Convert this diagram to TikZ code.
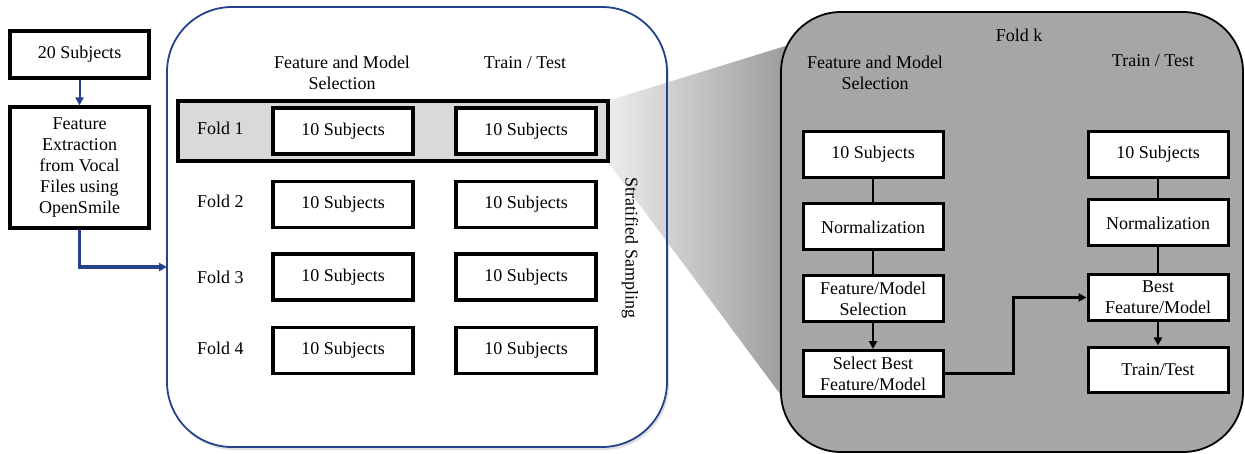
\documentclass[tikz,border=0pt]{standalone}
\usepackage{fontspec}
\setmainfont{Liberation Serif}
\usetikzlibrary{arrows.meta}
\definecolor{bluedk}{HTML}{24438A}
\definecolor{foldgray}{HTML}{A6A6A6}
\definecolor{hlgray}{HTML}{D9D9D9}
\tikzset{
  txt/.style={font=\fontsize{18}{21}\selectfont, align=center, inner sep=0pt},
  box/.style={txt, draw=black, line width=3.2pt, fill=white, minimum width=140pt, minimum height=46pt},
  kbox/.style={txt, draw=black, line width=3pt, fill=white, minimum width=140pt, minimum height=46pt},
  blarrow/.style={draw=bluedk, line width=2pt, -{Triangle[length=8pt,width=8pt]}},
  bkarrow/.style={draw=black, line width=2pt, -{Triangle[length=8pt,width=8pt]}},
  conn/.style={draw=black, line width=2pt},
}
\begin{document}
\begin{tikzpicture}[x=1pt,y=-1pt]
\useasboundingbox (0,0) rectangle (1245,454);
% left column
\node[box, minimum width=139pt, minimum height=47pt] (s20) at (79.5,54.5) {20 Subjects};
\node[box, minimum width=139pt, minimum height=121pt] (ext) at (79.5,167.5) {Feature\\Extraction\\from Vocal\\Files using\\OpenSmile};
\draw[blarrow] (s20) -- (ext);
% big box
\fill[black!12, rounded corners=65pt] (169,10) rectangle (669,450);
\fill[white, rounded corners=65pt] (167,7) rectangle (667,447);
\shade[left color=white!93!black, right color=black!40] (607,101) -- (792,44) -- (792,410) -- (607,161) -- cycle;
\node[draw=bluedk, line width=1.8pt, rounded corners=65pt, minimum width=500pt, minimum height=440pt, inner sep=0pt] (big) at (417,227) {};
\coordinate (inA) at (167,267);
\draw[blarrow, line width=3.5pt] (ext.south) |- (inA);
% headers
\node[txt] (h1) at (342,73) {Feature and Model\\Selection};
\node[txt] (h2) at (525,63) {Train / Test};
% fold 1 highlight
\node[draw=black, fill=hlgray, line width=3.5pt, minimum width=430pt, minimum height=60pt, inner sep=0pt] (f1row) at (393,131) {};
\node[txt, anchor=west] (f1) at (197,128) {Fold 1};
\node[txt, anchor=west] (f2) at (197,201) {Fold 2};
\node[txt, anchor=west] (f3) at (197,277) {Fold 3};
\node[txt, anchor=west] (f4) at (197,348) {Fold 4};
\node[box] (l1) at (343,131) {10 Subjects};
\node[box] (r1) at (526,131) {10 Subjects};
\node[box] (l2) at (343,204.5) {10 Subjects};
\node[box] (r2) at (526,204.5) {10 Subjects};
\node[box] (l3) at (343,277) {10 Subjects};
\node[box] (r3) at (526,277) {10 Subjects};
\node[box] (l4) at (343,350.5) {10 Subjects};
\node[box] (r4) at (526,350.5) {10 Subjects};
\node[txt, rotate=-90] (strat) at (630,248) {Stratified Sampling};
% fold k
\node[draw=black, fill=foldgray, line width=1.8pt, rounded corners=60pt, minimum width=462pt, minimum height=440pt, inner sep=0pt] (fk) at (1012,232) {};
\node[txt] (fkt) at (1019,35) {Fold k};
\node[txt] (kh1) at (875,73) {Feature and Model\\Selection};
\node[txt] (kh2) at (1153,61) {Train / Test};
\node[kbox] (a1) at (873,154.5) {10 Subjects};
\node[kbox] (a2) at (873,227) {Normalization};
\node[kbox] (a3) at (873,299) {Feature/Model\\Selection};
\node[kbox] (a4) at (873,373.5) {Select Best\\Feature/Model};
\node[kbox] (b1) at (1158,154.5) {10 Subjects};
\node[kbox] (b2) at (1158,223) {Normalization};
\node[kbox] (b3) at (1158,297.5) {Best\\Feature/Model};
\node[kbox, minimum height=45pt] (b4) at (1158,369.5) {Train/Test};
\draw[conn] (a1) -- (a2);
\draw[conn] (a2) -- (a3);
\draw[bkarrow] (a3) -- (a4);
\draw[conn] (b1) -- (b2);
\draw[conn] (b2) -- (b3);
\draw[bkarrow] (b3) -- (b4);
\draw[bkarrow, line width=3.5pt] (a4.east) -- ++(69,0) |- (b3.west);
\end{tikzpicture}
\end{document}
